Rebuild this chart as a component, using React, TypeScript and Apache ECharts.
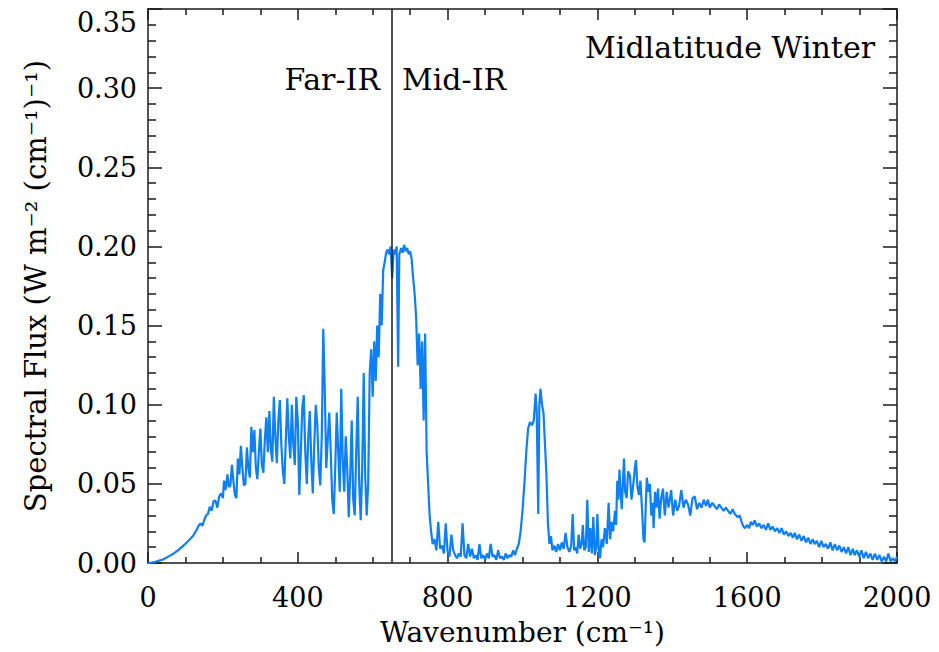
import React, { useEffect, useRef } from "react";
import * as echarts from "echarts";

// Wavenumber range / ticks
const X_MIN = 0;
const X_MAX = 2000;
const X_INTERVAL = 400;
const Y_MIN = 0;
const Y_MAX = 0.35;
const Y_INTERVAL = 0.05;
const DIVIDER_WAVENUMBER = 650;

const PROFILE_LABEL = "Midlatitude Winter";
const LEFT_REGION_LABEL = "Far-IR";
const RIGHT_REGION_LABEL = "Mid-IR";
const X_TITLE = "Wavenumber (cm⁻¹)";
const Y_TITLE = "Spectral Flux (W m⁻² (cm⁻¹)⁻¹)";

// [wavenumber cm-1, spectral flux]
const FAR_IR: [number, number][] = [
  [0, 0.0], [10, 0.0003], [20, 0.0008], [30, 0.0015], [40, 0.0022], [50, 0.0035],
  [60, 0.0048], [70, 0.0062], [80, 0.008], [90, 0.01], [100, 0.0122], [110, 0.0145],
  [120, 0.017], [130, 0.021], [135, 0.0235], [140, 0.025], [145, 0.0235], [150, 0.027],
  [155, 0.03], [160, 0.031], [165, 0.0355], [170, 0.033], [175, 0.039], [180, 0.0395],
  [185, 0.035], [190, 0.042], [195, 0.044], [200, 0.041], [203, 0.052], [207, 0.046],
  [212, 0.056], [216, 0.048], [220, 0.049], [224, 0.062], [228, 0.052], [232, 0.043],
  [236, 0.041], [240, 0.066], [244, 0.056], [248, 0.074], [252, 0.06], [256, 0.049],
  [260, 0.05], [264, 0.073], [268, 0.06], [272, 0.054], [276, 0.086], [280, 0.07],
  [284, 0.084], [288, 0.06], [292, 0.053], [296, 0.07], [300, 0.085], [304, 0.062],
  [308, 0.057], [312, 0.078], [316, 0.092], [320, 0.07], [324, 0.096], [328, 0.072],
  [332, 0.064], [336, 0.105], [340, 0.08], [344, 0.063], [348, 0.09], [352, 0.103],
  [356, 0.075], [360, 0.058], [364, 0.05], [368, 0.078], [372, 0.104], [376, 0.08],
  [380, 0.066], [384, 0.1], [388, 0.075], [392, 0.062], [396, 0.105], [400, 0.09],
  [404, 0.043], [408, 0.07], [412, 0.098], [416, 0.106], [420, 0.07], [424, 0.05],
  [428, 0.08], [432, 0.096], [436, 0.065], [440, 0.044], [444, 0.075], [448, 0.1],
  [452, 0.088], [456, 0.06], [460, 0.049], [464, 0.08], [468, 0.148], [472, 0.11],
  [476, 0.06], [480, 0.078], [484, 0.095], [488, 0.07], [492, 0.04], [496, 0.031],
  [500, 0.06], [504, 0.095], [508, 0.07], [512, 0.045], [516, 0.11], [520, 0.065],
  [524, 0.045], [528, 0.08], [532, 0.06], [536, 0.029], [540, 0.055], [544, 0.09],
  [548, 0.04], [552, 0.03], [556, 0.07], [560, 0.105], [564, 0.05], [568, 0.027],
  [572, 0.06], [576, 0.12], [580, 0.055], [584, 0.03], [588, 0.05], [592, 0.12],
];

const CO2_BAND: [number, number][] = [
  [596, 0.135], [600, 0.105], [604, 0.14], [608, 0.115], [612, 0.15], [616, 0.13],
  [620, 0.17], [624, 0.15], [628, 0.185], [632, 0.19], [636, 0.196], [640, 0.198],
  [644, 0.195], [648, 0.2], [652, 0.18], [656, 0.198], [660, 0.195], [664, 0.2],
  [668, 0.124], [671, 0.195], [676, 0.199], [680, 0.196], [684, 0.201], [688, 0.197],
  [692, 0.199], [696, 0.195], [700, 0.197], [704, 0.192], [708, 0.18], [712, 0.17],
  [716, 0.155], [720, 0.125], [724, 0.145], [728, 0.11], [732, 0.14], [736, 0.09],
  [740, 0.145], [744, 0.07], [748, 0.05], [752, 0.03], [756, 0.02],
];

const WINDOW: [number, number][] = [
  [760, 0.012], [765, 0.015], [770, 0.008], [775, 0.026], [780, 0.009], [785, 0.011],
  [790, 0.006], [795, 0.025], [800, 0.007], [805, 0.004], [810, 0.018], [815, 0.008],
  [820, 0.005], [825, 0.003], [830, 0.006], [835, 0.004], [840, 0.025], [845, 0.005],
  [850, 0.003], [855, 0.012], [860, 0.004], [865, 0.009], [870, 0.003], [875, 0.005],
  [880, 0.002], [885, 0.012], [890, 0.003], [895, 0.005], [900, 0.002], [905, 0.006],
  [910, 0.003], [915, 0.012], [920, 0.004], [925, 0.005], [930, 0.002], [935, 0.008],
  [940, 0.003], [945, 0.004], [950, 0.002], [955, 0.006], [960, 0.003], [965, 0.005],
  [970, 0.004], [975, 0.008], [980, 0.005], [985, 0.009], [990, 0.012],
];

const OZONE_BAND: [number, number][] = [
  [995, 0.02], [1000, 0.033], [1005, 0.05], [1010, 0.07], [1015, 0.085], [1020, 0.089],
  [1025, 0.087], [1030, 0.09], [1035, 0.107], [1038, 0.095], [1042, 0.031], [1045, 0.1],
  [1048, 0.11], [1052, 0.1], [1056, 0.095], [1060, 0.075], [1064, 0.055], [1068, 0.025],
];

const H2O_BAND: [number, number][] = [
  [1072, 0.012], [1076, 0.017], [1080, 0.008], [1085, 0.011], [1090, 0.007], [1095, 0.012],
  [1100, 0.008], [1105, 0.013], [1110, 0.009], [1115, 0.019], [1120, 0.01], [1125, 0.007],
  [1130, 0.011], [1134, 0.031], [1138, 0.008], [1142, 0.01], [1146, 0.006], [1150, 0.018],
  [1154, 0.009], [1158, 0.012], [1161, 0.024], [1165, 0.008], [1169, 0.01], [1173, 0.04],
  [1177, 0.007], [1181, 0.022], [1185, 0.006], [1189, 0.029], [1193, 0.005], [1197, 0.01],
  [1200, 0.031], [1204, 0.006], [1207, 0.003], [1211, 0.015], [1215, 0.01], [1220, 0.022],
  [1225, 0.012], [1230, 0.038], [1234, 0.015], [1238, 0.026], [1242, 0.02], [1247, 0.033],
  [1250, 0.024], [1253, 0.052], [1256, 0.04], [1259, 0.059], [1262, 0.045], [1265, 0.034],
  [1268, 0.05], [1271, 0.066], [1274, 0.045], [1278, 0.041], [1282, 0.058], [1287, 0.055],
  [1291, 0.04], [1296, 0.05], [1300, 0.06], [1303, 0.065], [1307, 0.048], [1311, 0.043],
  [1315, 0.052], [1320, 0.03], [1323, 0.015], [1326, 0.013], [1329, 0.035], [1332, 0.054],
  [1336, 0.045], [1340, 0.05], [1344, 0.03], [1348, 0.038], [1350, 0.022], [1354, 0.045],
  [1358, 0.035], [1362, 0.047], [1366, 0.028], [1370, 0.04], [1375, 0.047], [1380, 0.03],
  [1385, 0.045], [1390, 0.035], [1397, 0.046], [1402, 0.03], [1408, 0.04], [1413, 0.033],
  [1418, 0.036], [1424, 0.046], [1430, 0.035], [1436, 0.04], [1442, 0.037], [1448, 0.03],
  [1454, 0.041], [1460, 0.042], [1466, 0.034], [1472, 0.038], [1478, 0.035], [1484, 0.04],
  [1490, 0.036], [1495, 0.04], [1500, 0.035], [1507, 0.038], [1513, 0.036], [1519, 0.034],
  [1525, 0.037], [1531, 0.035], [1537, 0.033], [1543, 0.035], [1549, 0.033], [1555, 0.031],
  [1561, 0.034], [1567, 0.031], [1574, 0.029], [1580, 0.03], [1585, 0.026], [1590, 0.023],
  [1594, 0.022], [1600, 0.024], [1605, 0.022], [1610, 0.026], [1615, 0.024], [1620, 0.027],
  [1626, 0.023], [1632, 0.025], [1638, 0.022], [1644, 0.024], [1650, 0.021], [1656, 0.025],
  [1662, 0.021], [1668, 0.023], [1674, 0.02], [1680, 0.022], [1686, 0.019], [1692, 0.022],
  [1698, 0.018], [1704, 0.02], [1710, 0.017], [1716, 0.019], [1722, 0.016], [1727, 0.019],
  [1733, 0.015], [1739, 0.018], [1745, 0.014], [1751, 0.017], [1757, 0.013], [1763, 0.016],
  [1769, 0.012], [1775, 0.015], [1780, 0.012], [1786, 0.014], [1792, 0.01], [1798, 0.014],
  [1804, 0.01], [1810, 0.012], [1816, 0.009], [1822, 0.013], [1828, 0.008], [1834, 0.012],
  [1840, 0.008], [1846, 0.011], [1852, 0.007], [1858, 0.01], [1864, 0.006], [1870, 0.01],
  [1876, 0.005], [1882, 0.009], [1887, 0.005], [1893, 0.008], [1899, 0.004], [1905, 0.008],
  [1911, 0.003], [1917, 0.007], [1923, 0.003], [1929, 0.006], [1935, 0.002], [1941, 0.006],
  [1947, 0.002], [1953, 0.005], [1959, 0.001], [1965, 0.004], [1971, 0.001], [1977, 0.006],
  [1983, 0.001], [1989, 0.003], [1995, 0.001], [2000, 0.004],
];

const SPECTRUM = [...FAR_IR, ...CO2_BAND, ...WINDOW, ...OZONE_BAND, ...H2O_BAND];

const FONT = "DejaVu Serif";
const AXIS_COLOR = "#1a1a1a";
const LINE_COLOR = "#0f7ff4";

function boxAxisCommon(tickLen: number, minorLen: number, split: number) {
  return {
    axisLine: { show: true, onZero: false, lineStyle: { color: AXIS_COLOR, width: 1.5 } },
    axisTick: { show: true, inside: true, length: tickLen, lineStyle: { color: AXIS_COLOR, width: 1.5 } },
    minorTick: { show: true, splitNumber: split, length: minorLen, lineStyle: { color: AXIS_COLOR, width: 1.5 } },
    splitLine: { show: false },
    minorSplitLine: { show: false },
  };
}

export default function App() {
  const ref = useRef<HTMLDivElement>(null);
  useEffect(() => {
    document.body.style.margin = "0";
    if (!ref.current) return;
    const chart = echarts.init(ref.current, null, { renderer: "svg" });
    const xBase = { type: "value", min: X_MIN, max: X_MAX, interval: X_INTERVAL };
    const yBase = { type: "value", min: Y_MIN, max: Y_MAX, interval: Y_INTERVAL };
    chart.setOption({
      animation: false,
      backgroundColor: "#ffffff",
      grid: { left: 148, right: 42, top: 9, bottom: 89, containLabel: false },
      xAxis: [
        {
          ...xBase,
          position: "bottom",
          ...boxAxisCommon(11, 6, 4),
          axisLabel: {
            show: true,
            fontFamily: FONT,
            fontSize: 27,
            color: "#000",
            margin: 21,
            formatter: (v: number) => String(v),
          },
          name: X_TITLE,
          nameLocation: "middle",
          nameGap: 55,
          nameTextStyle: { fontFamily: FONT, fontSize: 28, color: "#000" },
        },
        {
          ...xBase,
          position: "top",
          ...boxAxisCommon(11, 6, 4),
          axisLabel: { show: false },
        },
      ],
      yAxis: [
        {
          ...yBase,
          position: "left",
          ...boxAxisCommon(14, 8, 5),
          axisLabel: {
            show: true,
            fontFamily: FONT,
            fontSize: 27,
            color: "#000",
            margin: 11,
            formatter: (v: number) => v.toFixed(2),
            verticalAlignMaxLabel: "top",
          },
          name: Y_TITLE,
          nameLocation: "middle",
          nameGap: 98,
          nameRotate: 90,
          nameTextStyle: { fontFamily: FONT, fontSize: 29, color: "#000" },
        },
        {
          ...yBase,
          position: "right",
          ...boxAxisCommon(14, 8, 5),
          axisLabel: { show: false },
        },
      ],
      series: [
        {
          type: "line",
          xAxisIndex: 0,
          yAxisIndex: 0,
          data: SPECTRUM,
          showSymbol: false,
          symbol: "none",
          lineStyle: { color: LINE_COLOR, width: 2.2 },
          emphasis: { disabled: true },
          markLine: {
            silent: true,
            symbol: ["none", "none"],
            label: { show: false },
            lineStyle: { color: AXIS_COLOR, type: "solid", width: 1.5 },
            emphasis: { disabled: true },
            data: [{ xAxis: DIVIDER_WAVENUMBER }],
          },
        },
      ],
      graphic: [
        {
          type: "text",
          x: 875,
          y: 47,
          style: { text: PROFILE_LABEL, fontFamily: FONT, fontSize: 30, fill: "#000", align: "right", verticalAlign: "middle" },
        },
        {
          type: "text",
          x: 380,
          y: 79,
          style: { text: LEFT_REGION_LABEL, fontFamily: FONT, fontSize: 30, fill: "#000", align: "right", verticalAlign: "middle" },
        },
        {
          type: "text",
          x: 402,
          y: 79,
          style: { text: RIGHT_REGION_LABEL, fontFamily: FONT, fontSize: 30, fill: "#000", align: "left", verticalAlign: "middle" },
        },
      ],
    });
    return () => chart.dispose();
  }, []);
  return <div ref={ref} style={{ width: 939, height: 652 }} />;
}
